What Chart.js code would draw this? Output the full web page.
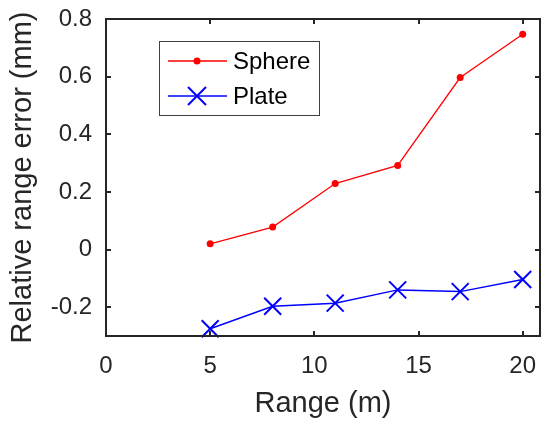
<!DOCTYPE html>
<html>
<head>
<meta charset="utf-8">
<script src="https://cdn.jsdelivr.net/npm/chart.js@4/dist/chart.umd.min.js"></script>
<style>
  html, body { margin: 0; padding: 0; background: #fff; }
  #wrap { width: 541px; height: 422px; }
</style>
</head>
<body>
<div id="wrap"><canvas id="chart"></canvas></div>
<script>
// data
const ranges = [5, 8, 11, 14, 17, 20]
const sphere = [0.02, 0.078, 0.229, 0.292, 0.597, 0.747]
const plate = [-0.275, -0.197, -0.186, -0.14, -0.146, -0.104]
const xTicks = [0, 5, 10, 15, 20]
const yTicks = [-0.2, 0, 0.2, 0.4, 0.6, 0.8]

const axisColor = "#262626"
const font = "'Liberation Sans', Arial, sans-serif"

// box round the plot with inward ticks on all four sides
const boxPlugin = {
  id: "box",
  afterDraw(chart) {
    const ctx = chart.ctx
    const a = chart.chartArea
    const xs = chart.scales.x
    const ys = chart.scales.y
    const len = 5
    ctx.save()
    ctx.strokeStyle = axisColor
    ctx.lineWidth = 2
    ctx.strokeRect(a.left, a.top, a.right - a.left, a.bottom - a.top)
    ctx.beginPath()
    xTicks.forEach((v) => {
      const px = Math.round(xs.getPixelForValue(v))
      ctx.moveTo(px, a.bottom)
      ctx.lineTo(px, a.bottom - len)
      ctx.moveTo(px, a.top)
      ctx.lineTo(px, a.top + len)
    })
    yTicks.forEach((v) => {
      const py = Math.round(ys.getPixelForValue(v))
      ctx.moveTo(a.left, py)
      ctx.lineTo(a.left + len, py)
      ctx.moveTo(a.right, py)
      ctx.lineTo(a.right - len, py)
    })
    ctx.stroke()
    ctx.restore()
  },
}

// matlab style legend inside the axes
const legendPlugin = {
  id: "mlegend",
  afterDraw(chart) {
    const ctx = chart.ctx
    const bx = 159, by = 41, bw = 160, bh = 74
    ctx.save()
    ctx.fillStyle = "#fff"
    ctx.fillRect(bx, by, bw, bh)
    ctx.strokeStyle = "#404040"
    ctx.lineWidth = 1
    ctx.strokeRect(bx + 0.5, by + 0.5, bw, bh)
    chart.data.datasets.forEach((ds, i) => {
      const y = 61 + i * 35
      ctx.strokeStyle = ds.borderColor
      ctx.lineWidth = ds.borderWidth
      ctx.beginPath()
      ctx.moveTo(168, y)
      ctx.lineTo(227, y)
      ctx.stroke()
      if (ds.pointStyle === "circle") {
        ctx.fillStyle = ds.borderColor
        ctx.beginPath()
        ctx.arc(197, y, ds.pointRadius, 0, Math.PI * 2)
        ctx.fill()
      } else {
        const r = ds.pointRadius * 0.75
        ctx.lineWidth = ds.pointBorderWidth
        ctx.beginPath()
        ctx.moveTo(197 - r, y - r)
        ctx.lineTo(197 + r, y + r)
        ctx.moveTo(197 + r, y - r)
        ctx.lineTo(197 - r, y + r)
        ctx.stroke()
      }
      ctx.fillStyle = "#000"
      ctx.font = "24px " + font
      ctx.textBaseline = "middle"
      ctx.fillText(ds.label, 233, y + 1)
    })
    ctx.restore()
  },
}

new Chart(document.getElementById("chart"), {
  type: "scatter",
  data: {
    datasets: [
      {
        label: "Sphere",
        data: ranges.map((x, i) => ({ x: x, y: sphere[i] })),
        showLine: true,
        borderColor: "#ff0000",
        backgroundColor: "#ff0000",
        borderWidth: 1.3,
        pointStyle: "circle",
        pointRadius: 3.5,
        pointBorderWidth: 0,
      },
      {
        label: "Plate",
        data: ranges.map((x, i) => ({ x: x, y: plate[i] })),
        showLine: true,
        borderColor: "#0000ff",
        backgroundColor: "#0000ff",
        borderWidth: 1.5,
        pointStyle: "crossRot",
        pointRadius: 12,
        pointBorderWidth: 2,
      },
    ],
  },
  options: {
    responsive: true,
    maintainAspectRatio: false,
    animation: false,
    clip: false,
    layout: {
      autoPadding: false,
      padding: { top: 19, right: 1, left: 0, bottom: 0 },
    },
    plugins: {
      legend: { display: false },
      tooltip: { enabled: false },
    },
    scales: {
      x: {
        type: "linear",
        min: 0,
        max: 20.83,
        afterBuildTicks: (s) => {
          s.ticks = xTicks.map((v) => ({ value: v }))
        },
        afterFit: (s) => {
          s.height = 86
          s.paddingLeft = 0
          s.paddingRight = 0
        },
        grid: { display: false, drawTicks: false },
        border: { display: false },
        ticks: {
          padding: 16,
          color: axisColor,
          font: { family: font, size: 24 },
          maxRotation: 0,
          callback: (v) => String(v),
        },
        title: {
          display: true,
          text: "Range (m)",
          color: axisColor,
          font: { family: font, size: 29 },
          padding: { top: 0, bottom: 1 },
        },
      },
      y: {
        type: "linear",
        min: -0.3,
        max: 0.8,
        afterBuildTicks: (s) => {
          s.ticks = yTicks.map((v) => ({ value: v }))
        },
        afterFit: (s) => {
          s.width = 106
          s.paddingTop = 0
          s.paddingBottom = 0
        },
        grid: { display: false, drawTicks: false },
        border: { display: false },
        ticks: {
          padding: 14,
          color: axisColor,
          font: { family: font, size: 24 },
          callback: (v) => String(Math.round(v * 10) / 10),
        },
        title: {
          display: true,
          text: "Relative range error (mm)",
          color: axisColor,
          font: { family: font, size: 29 },
          padding: { top: 6, bottom: 0 },
        },
      },
    },
  },
  plugins: [boxPlugin, legendPlugin],
})
</script>
</body>
</html>
